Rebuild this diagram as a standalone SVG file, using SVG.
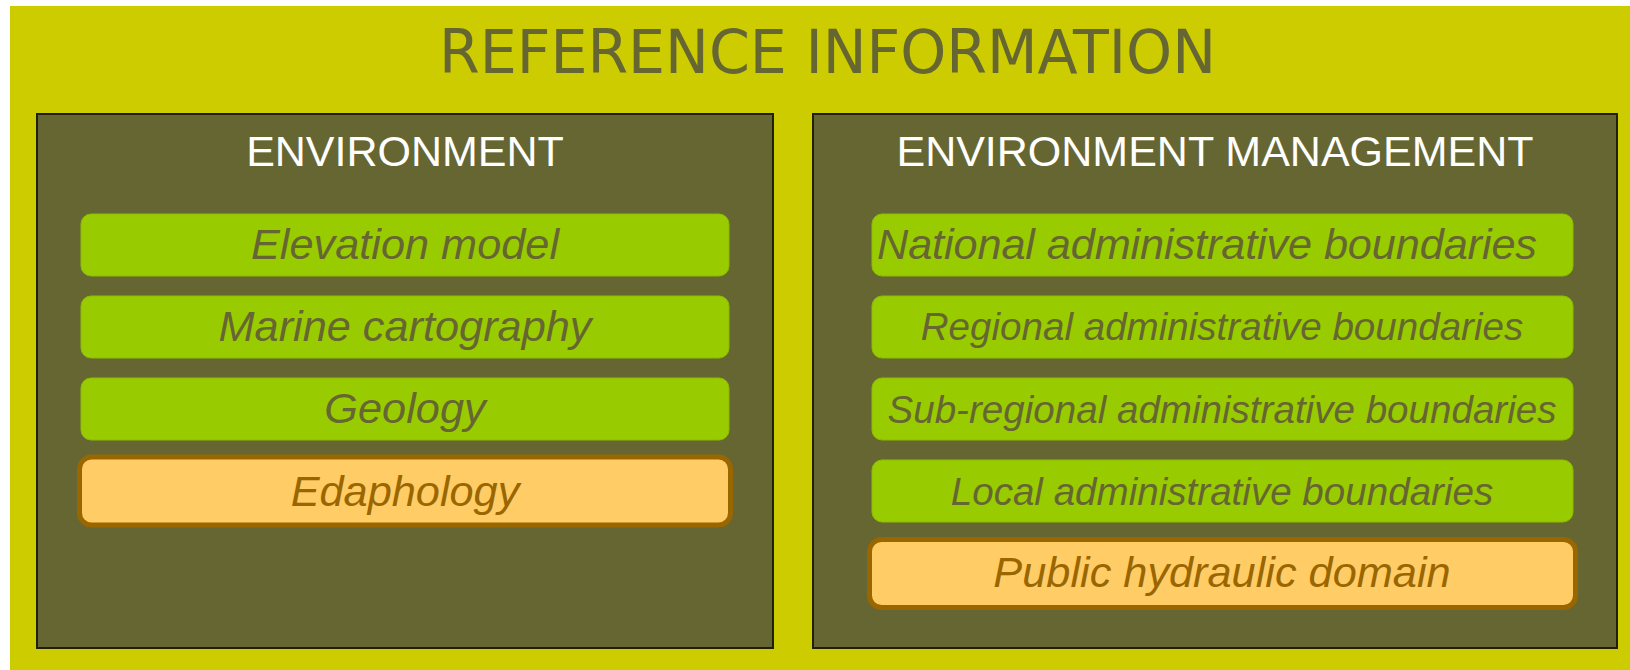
<svg xmlns="http://www.w3.org/2000/svg" width="1630" height="670" viewBox="0 0 1630 670">
<style>
.bg{fill:#CCCC00}
.panel{fill:#666633;stroke:#1f1f0a;stroke-width:2}
.ptitle{font-family:"Liberation Sans",Arial,sans-serif;font-size:43px;fill:#FFFFFF;text-anchor:middle}
.g{fill:#99CC00;stroke:#8cbb00;stroke-width:1}
.o{fill:#FFCC66;stroke:#996600;stroke-width:5}
.gt{font-family:"Liberation Sans",Arial,sans-serif;font-style:italic;font-size:43.3px;fill:#666633;text-anchor:middle}
.ot{font-family:"Liberation Sans",Arial,sans-serif;font-style:italic;font-size:43.3px;fill:#996600;text-anchor:middle}
.sm{font-size:38.6px}
</style>
<rect class="bg" x="10" y="6" width="1620" height="664"/>
<text x="439" y="73" font-family="DejaVu Sans, sans-serif" font-size="60" fill="#666633" textLength="777" lengthAdjust="spacingAndGlyphs">REFERENCE INFORMATION</text>

<g id="environment">
<rect class="panel" x="37" y="114" width="736" height="534"/>
<text class="ptitle" x="405" y="166">ENVIRONMENT</text>
</g>
<g id="elevation-model">
<rect class="g" x="81" y="214" width="648" height="62" rx="10"/>
<text class="gt" x="405" y="259">Elevation model</text>
</g>
<g id="marine-cartography">
<rect class="g" x="81" y="296" width="648" height="62" rx="10"/>
<text class="gt" x="405" y="341">Marine cartography</text>
</g>
<g id="geology">
<rect class="g" x="81" y="378" width="648" height="62" rx="10"/>
<text class="gt" x="405" y="423">Geology</text>
</g>
<g id="edaphology">
<rect class="o" x="79.5" y="457" width="651" height="68" rx="12"/>
<text class="ot" x="405" y="506">Edaphology</text>
</g>

<g id="environment-management">
<rect class="panel" x="813" y="114" width="804" height="534"/>
<text class="ptitle" x="1215" y="166">ENVIRONMENT MANAGEMENT</text>
</g>
<g id="national">
<rect class="g" x="872" y="214" width="701" height="62" rx="10"/>
<text class="gt" x="1207" y="259" textLength="660">National administrative boundaries</text>
</g>
<g id="regional">
<rect class="g" x="872" y="296" width="701" height="62" rx="10"/>
<text class="gt sm" x="1222" y="340">Regional administrative boundaries</text>
</g>
<g id="sub-regional">
<rect class="g" x="872" y="378" width="701" height="62" rx="10"/>
<text class="gt sm" x="1222" y="423">Sub-regional administrative boundaries</text>
</g>
<g id="local">
<rect class="g" x="872" y="460" width="701" height="62" rx="10"/>
<text class="gt sm" x="1222" y="505">Local administrative boundaries</text>
</g>
<g id="public-hydraulic-domain">
<rect class="o" x="869.5" y="539.5" width="706" height="68" rx="12"/>
<text class="ot" x="1222" y="587">Public hydraulic domain</text>
</g>
<g id="connectors"/>
</svg>
